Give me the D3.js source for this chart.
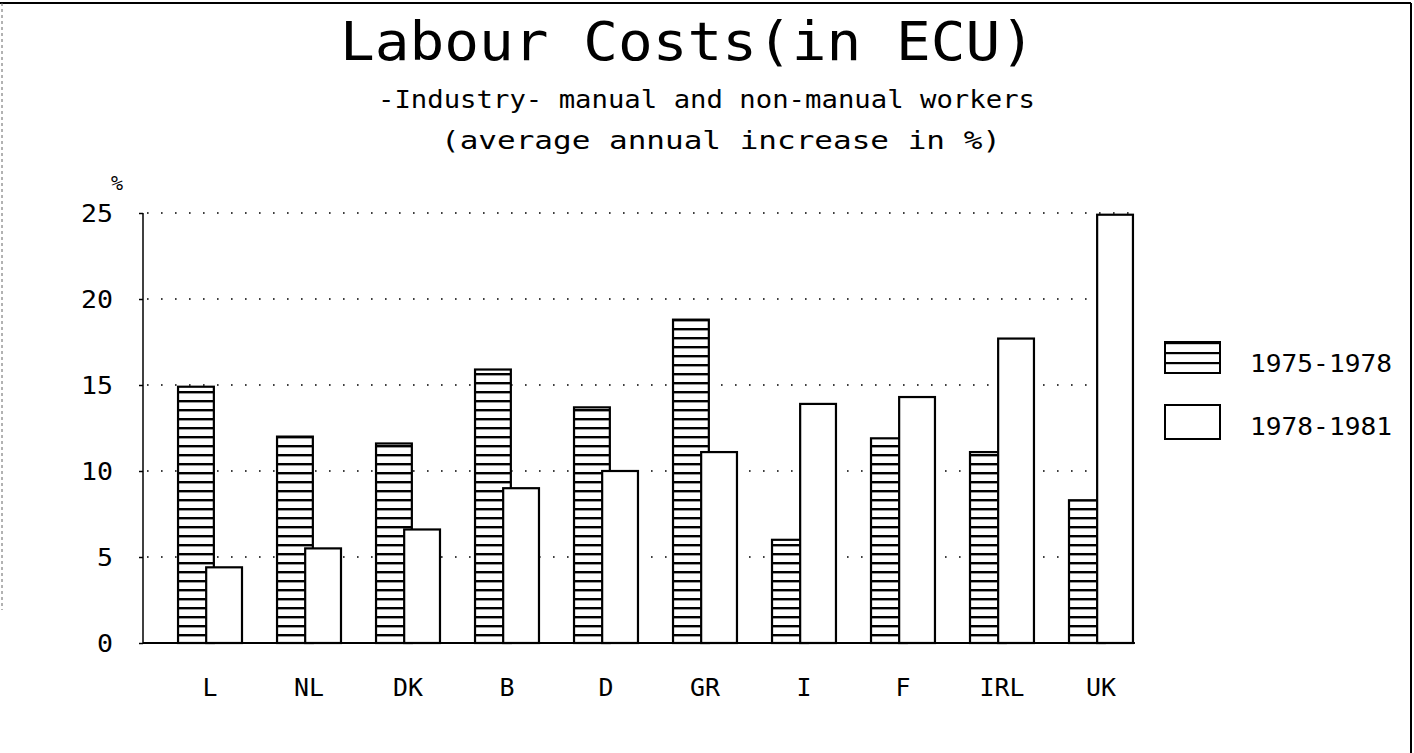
<!DOCTYPE html>
<html>
<head>
<meta charset="utf-8">
<script src="https://cdn.jsdelivr.net/npm/d3@7"></script>
<style>
html,body{margin:0;padding:0;background:#fff;}
svg{display:block;}
text{font-family:"DejaVu Sans Mono","Liberation Mono",monospace;fill:#000;}
</style>
</head>
<body>
<script>
const categories = ["L","NL","DK","B","D","GR","I","F","IRL","UK"];
const series1975 = [14.9,12.0,11.6,15.9,13.7,18.8,6.0,11.9,11.1,8.3];
const series1978 = [4.4,5.5,6.6,9.0,10.0,11.1,13.9,14.3,17.7,24.9];
const seriesNames = ["1975-1978","1978-1981"];
const yTicks = [0,5,10,15,20,25];
const titleText = "Labour Costs(in ECU)";
const subtitle1 = "-Industry- manual and non-manual workers";
const subtitle2 = "(average annual increase in %)";
const unitLabel = "%";

const W = 1414, H = 753;
const svg = d3.select("body").append("svg").attr("width", W).attr("height", H);

const defs = svg.append("defs");
const pat = defs.append("pattern").attr("id","hatch").attr("patternUnits","userSpaceOnUse")
  .attr("x",0).attr("y",643).attr("width",10).attr("height",9);
pat.append("rect").attr("width",10).attr("height",9).attr("fill","#fff");
pat.append("rect").attr("x",0).attr("y",0).attr("width",10).attr("height",2.4).attr("fill","#000");
const pat2 = defs.append("pattern").attr("id","hatchLegend").attr("patternUnits","userSpaceOnUse")
  .attr("x",0).attr("y",342).attr("width",10).attr("height",10);
pat2.append("rect").attr("width",10).attr("height",10).attr("fill","#fff");
pat2.append("rect").attr("x",0).attr("y",0).attr("width",10).attr("height",2.2).attr("fill","#000");

// frame
svg.append("line").attr("x1",0).attr("x2",1411).attr("y1",3).attr("y2",3).attr("stroke","#000").attr("stroke-width",2);
svg.append("line").attr("x1",1411).attr("x2",1411).attr("y1",3).attr("y2",H).attr("stroke","#000").attr("stroke-width",2);
svg.append("line").attr("x1",2).attr("x2",2).attr("y1",3).attr("y2",610).attr("stroke","#666").attr("stroke-width",1).attr("stroke-dasharray","3,3");

const x0 = 143, yTop = 213, yBase = 643;
const x = d3.scaleBand().domain(categories).range([x0, 1168]).paddingInner(0.354).paddingOuter(0.354);
const y = d3.scaleLinear().domain([0,25]).range([yBase, yTop]);
const bw = x.bandwidth();
const barW = bw*0.56, off = bw*0.44;
const xEnd = x("UK") + bw + 2;

// titles
function stretchText(txt, x, y, size, len){
  return svg.append("text").attr("x",x).attr("y",y).attr("font-size",size)
    .attr("textLength",len).attr("lengthAdjust","spacingAndGlyphs").text(txt);
}
stretchText(titleText, 340, 60, 54, 695);
stretchText(subtitle1, 378, 108, 25, 657);
stretchText(subtitle2, 441, 149, 25, 560);
svg.append("text").attr("x",111).attr("y",190).attr("font-size",20).text(unitLabel);

// grid
svg.append("g").selectAll("line").data(yTicks.filter(d=>d>0)).join("line")
  .attr("x1",x0+4).attr("x2",xEnd).attr("y1",d=>y(d)).attr("y2",d=>y(d))
  .attr("stroke","#000").attr("stroke-width",1.6).attr("stroke-dasharray","1.6,12.4");

// y axis
const yAxis = d3.axisLeft(y).tickValues(yTicks).tickSize(4).tickFormat("");
const gy = svg.append("g").attr("transform",`translate(${x0},0)`).call(yAxis);
gy.select(".domain").remove();
gy.selectAll(".tick line").attr("stroke","#000").attr("stroke-width",1.5);
svg.append("line").attr("x1",x0).attr("x2",x0).attr("y1",yTop).attr("y2",yBase).attr("stroke","#000").attr("stroke-width",1.5);
svg.append("g").selectAll("text").data(yTicks).join("text")
  .attr("x",113).attr("y",d=>y(d)+9).attr("text-anchor","end").attr("font-size",24)
  .attr("textLength",d=>String(d).length*16).attr("lengthAdjust","spacingAndGlyphs")
  .text(d=>d);

// bars
const g = svg.append("g");
g.selectAll("rect.h").data(categories).join("rect").attr("class","h")
  .attr("x",(d)=>x(d)).attr("width",barW)
  .attr("y",(d,i)=>y(series1975[i])).attr("height",(d,i)=>yBase - y(series1975[i]))
  .attr("fill","url(#hatch)").attr("stroke","#000").attr("stroke-width",2.2);
g.selectAll("rect.w").data(categories).join("rect").attr("class","w")
  .attr("x",(d)=>x(d)+off).attr("width",barW)
  .attr("y",(d,i)=>y(series1978[i])).attr("height",(d,i)=>yBase - y(series1978[i]))
  .attr("fill","#fff").attr("stroke","#000").attr("stroke-width",2.2);

// x axis
svg.append("line").attr("x1",x0).attr("x2",xEnd).attr("y1",yBase).attr("y2",yBase).attr("stroke","#000").attr("stroke-width",2);
svg.append("g").selectAll("text").data(categories).join("text")
  .attr("x",d=>x(d)+bw/2).attr("y",696).attr("text-anchor","middle").attr("font-size",25)
  .attr("textLength",d=>d.length*15).attr("lengthAdjust","spacingAndGlyphs")
  .text(d=>d);

// legend
const legY = [342, 405];
svg.append("rect").attr("x",1165).attr("y",legY[0]).attr("width",55).attr("height",31)
  .attr("fill","url(#hatchLegend)").attr("stroke","#000").attr("stroke-width",2);
svg.append("rect").attr("x",1165).attr("y",legY[1]).attr("width",55).attr("height",34)
  .attr("fill","#fff").attr("stroke","#000").attr("stroke-width",2);
svg.append("g").selectAll("text").data(seriesNames).join("text")
  .attr("x",1250).attr("y",(d,i)=>legY[i]+30).attr("font-size",24)
  .attr("textLength",142).attr("lengthAdjust","spacingAndGlyphs").text(d=>d);
</script>
</body>
</html>
